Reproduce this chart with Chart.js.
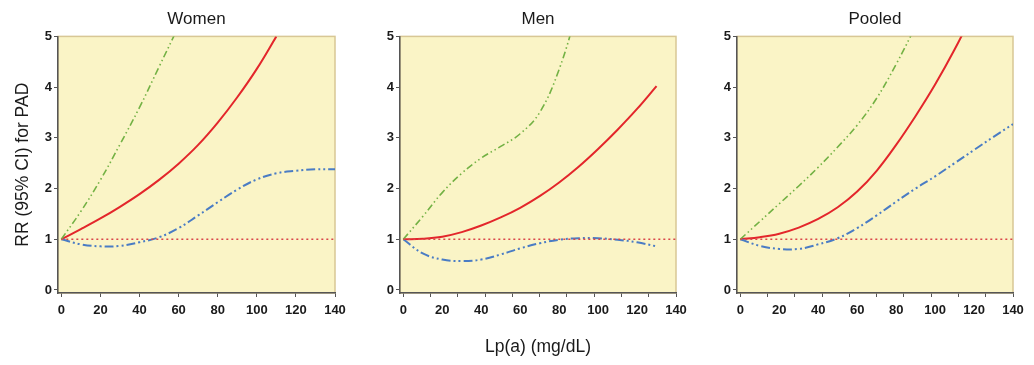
<!DOCTYPE html>
<html>
<head>
<meta charset="utf-8">
<script src="https://cdn.jsdelivr.net/npm/chart.js@4"></script>
<style>
  body { margin: 0; background: #fff; }
  #wrap { position: relative; width: 1034px; height: 365px; overflow: hidden; }
  .panel { position: absolute; top: 0; }
</style>
</head>
<body>
<div id="wrap">
  <div class="panel" style="left:0px"><canvas id="women" width="360" height="365"></canvas></div>
  <div class="panel" style="left:345px"><canvas id="men" width="360" height="365"></canvas></div>
  <div class="panel" style="left:689px"><canvas id="pooled" width="345" height="365"></canvas></div>
</div>
<script>
// Lp(a) grid, mg/dL
const lpa = [0, 10, 20, 30, 40, 50, 60, 70, 80, 90, 100, 110, 120, 130, 140];

// RR for PAD (null = curve not drawn / off scale)
const womenRR    = [1, 1.2, 1.41, 1.64, 1.89, 2.17, 2.49, 2.86, 3.3, 3.8, 4.36, 5.0, null, null, null];
const womenUpper = [1, 1.55, 2.17, 2.87, 3.6, 4.4, 5.2, null, null, null, null, null, null, null, null];
const womenLower = [1, 0.9, 0.86, 0.87, 0.94, 1.04, 1.22, 1.47, 1.73, 1.98, 2.18, 2.3, 2.35, 2.38, 2.38];

const menRR    = [1, 1.01, 1.05, 1.14, 1.27, 1.43, 1.62, 1.85, 2.12, 2.43, 2.78, 3.16, 3.57, 4.02, null];
const menUpper = [1, 1.45, 1.92, 2.3, 2.6, 2.83, 3.08, 3.5, 4.35, 5.6, null, null, null, null, null];
const menLower = [1, 0.72, 0.6, 0.57, 0.6, 0.7, 0.82, 0.92, 0.99, 1.02, 1.02, 0.99, 0.94, 0.86, null];

const pooledRR    = [1, 1.04, 1.11, 1.23, 1.4, 1.63, 1.94, 2.35, 2.86, 3.43, 4.05, 4.74, 5.5, null, null];
const pooledUpper = [1, 1.35, 1.7, 2.05, 2.42, 2.82, 3.25, 3.78, 4.45, 5.2, null, null, null, null, null];
const pooledLower = [1, 0.87, 0.81, 0.81, 0.9, 1.02, 1.22, 1.47, 1.74, 2.0, 2.24, 2.5, 2.76, 3.02, 3.27];

const refRR = 1;
const xLabels = [0, 20, 40, 60, 80, 100, 120, 140];
const xMinor = [0, 14, 28, 42, 56, 70, 84, 98, 112, 126, 140];
const yTicks = [0, 1, 2, 3, 4, 5];

Chart.defaults.font.family = 'Arial, "Liberation Sans", sans-serif';
Chart.defaults.color = '#1a1a1a';

const plotBg = {
    id: 'plotBg',
    beforeDraw(chart) {
        const { ctx, chartArea: a } = chart;
        ctx.save();
        ctx.fillStyle = '#faf4c6';
        ctx.fillRect(a.left, a.top, a.width, a.height);
        ctx.strokeStyle = '#d8c795';
        ctx.lineWidth = 1.5;
        ctx.strokeRect(a.left, a.top, a.width, a.height);
        ctx.restore();
    }
};

function pts(values) {
    return values.map((v, i) => ({ x: lpa[i], y: v }));
}

function makePanel(id, title, rr, upper, lower, opts) {
    const marks = opts.marks;
    const allTicks = [...new Set([...marks, ...xLabels])].sort((a, b) => a - b);
    new Chart(document.getElementById(id), {
        type: 'line',
        data: {
            datasets: [
                { data: [{ x: lpa[0], y: refRR }, { x: lpa[lpa.length - 1], y: refRR }],
                  borderColor: '#d9464a', borderWidth: 1.5, borderDash: [2, 3], tension: 0 },
                { data: pts(upper), borderColor: '#73b144', borderWidth: 1.6,
                  borderDash: [7, 3, 1.5, 3, 1.5, 3] },
                { data: pts(lower), borderColor: '#4a7cc4', borderWidth: 2,
                  borderDash: [9, 3, 2, 3, 2, 3] },
                { data: pts(rr), borderColor: '#e3262b', borderWidth: 2 }
            ]
        },
        options: {
            responsive: false,
            animation: false,
            devicePixelRatio: 1,
            layout: { padding: { left: 0, right: opts.padRight, top: 0, bottom: 0 } },
            elements: {
                point: { radius: 0 },
                line: { tension: 0.4, fill: false }
            },
            datasets: { line: { clip: 0, spanGaps: false } },
            plugins: {
                legend: { display: false },
                tooltip: { enabled: false },
                title: {
                    display: true, text: title, fullSize: false,
                    font: { size: 17, weight: 'normal' }, color: '#1a1a1a',
                    padding: { top: 9, bottom: 7 }
                }
            },
            scales: {
                x: {
                    type: 'linear', min: -1.7, max: 140,
                    afterBuildTicks: s => { s.ticks = allTicks.map(v => ({ value: v })); },
                    afterFit: s => { s.height = 72; s.paddingLeft = 0; s.paddingRight = 0; },
                    ticks: {
                        autoSkip: false, maxRotation: 0, padding: 6,
                        font: { size: 13, weight: 'bold' }, color: '#1a1a1a',
                        callback: v => xLabels.includes(v) ? String(v) : ''
                    },
                    grid: {
                        drawOnChartArea: false, drawTicks: true, tickLength: 4,
                        tickColor: c => (c.tick && marks.includes(c.tick.value)) ? '#555' : 'rgba(0,0,0,0)'
                    },
                    border: { color: '#555', width: 1.5 },
                    title: {
                        display: !!opts.xTitle, text: opts.xTitle || '',
                        font: { size: 17.5 }, color: '#1a1a1a',
                        padding: { top: 0, bottom: 7 }
                    }
                },
                y: {
                    min: -0.06, max: 5,
                    afterBuildTicks: s => { s.ticks = yTicks.map(v => ({ value: v })); },
                    afterFit: s => { s.width = opts.yWidth; },
                    ticks: { padding: 2, font: { size: 13, weight: 'bold' }, color: '#1a1a1a' },
                    grid: { drawOnChartArea: false, drawTicks: true, tickLength: 4, tickColor: '#555' },
                    border: { color: '#555', width: 1.5 },
                    title: {
                        display: !!opts.yTitle, text: opts.yTitle || '',
                        font: { size: 17.5 }, color: '#1a1a1a',
                        padding: { top: 13, bottom: 0 }
                    }
                }
            }
        },
        plugins: [plotBg]
    });
}

makePanel('women', 'Women', womenRR, womenUpper, womenLower,
    { marks: xLabels, yWidth: 58, padRight: 25, yTitle: 'RR (95% CI) for PAD' });
makePanel('men', 'Men', menRR, menUpper, menLower,
    { marks: xMinor, yWidth: 55, padRight: 29, xTitle: 'Lp(a) (mg/dL)' });
makePanel('pooled', 'Pooled', pooledRR, pooledUpper, pooledLower,
    { marks: xMinor, yWidth: 48, padRight: 21 });
</script>
</body>
</html>
